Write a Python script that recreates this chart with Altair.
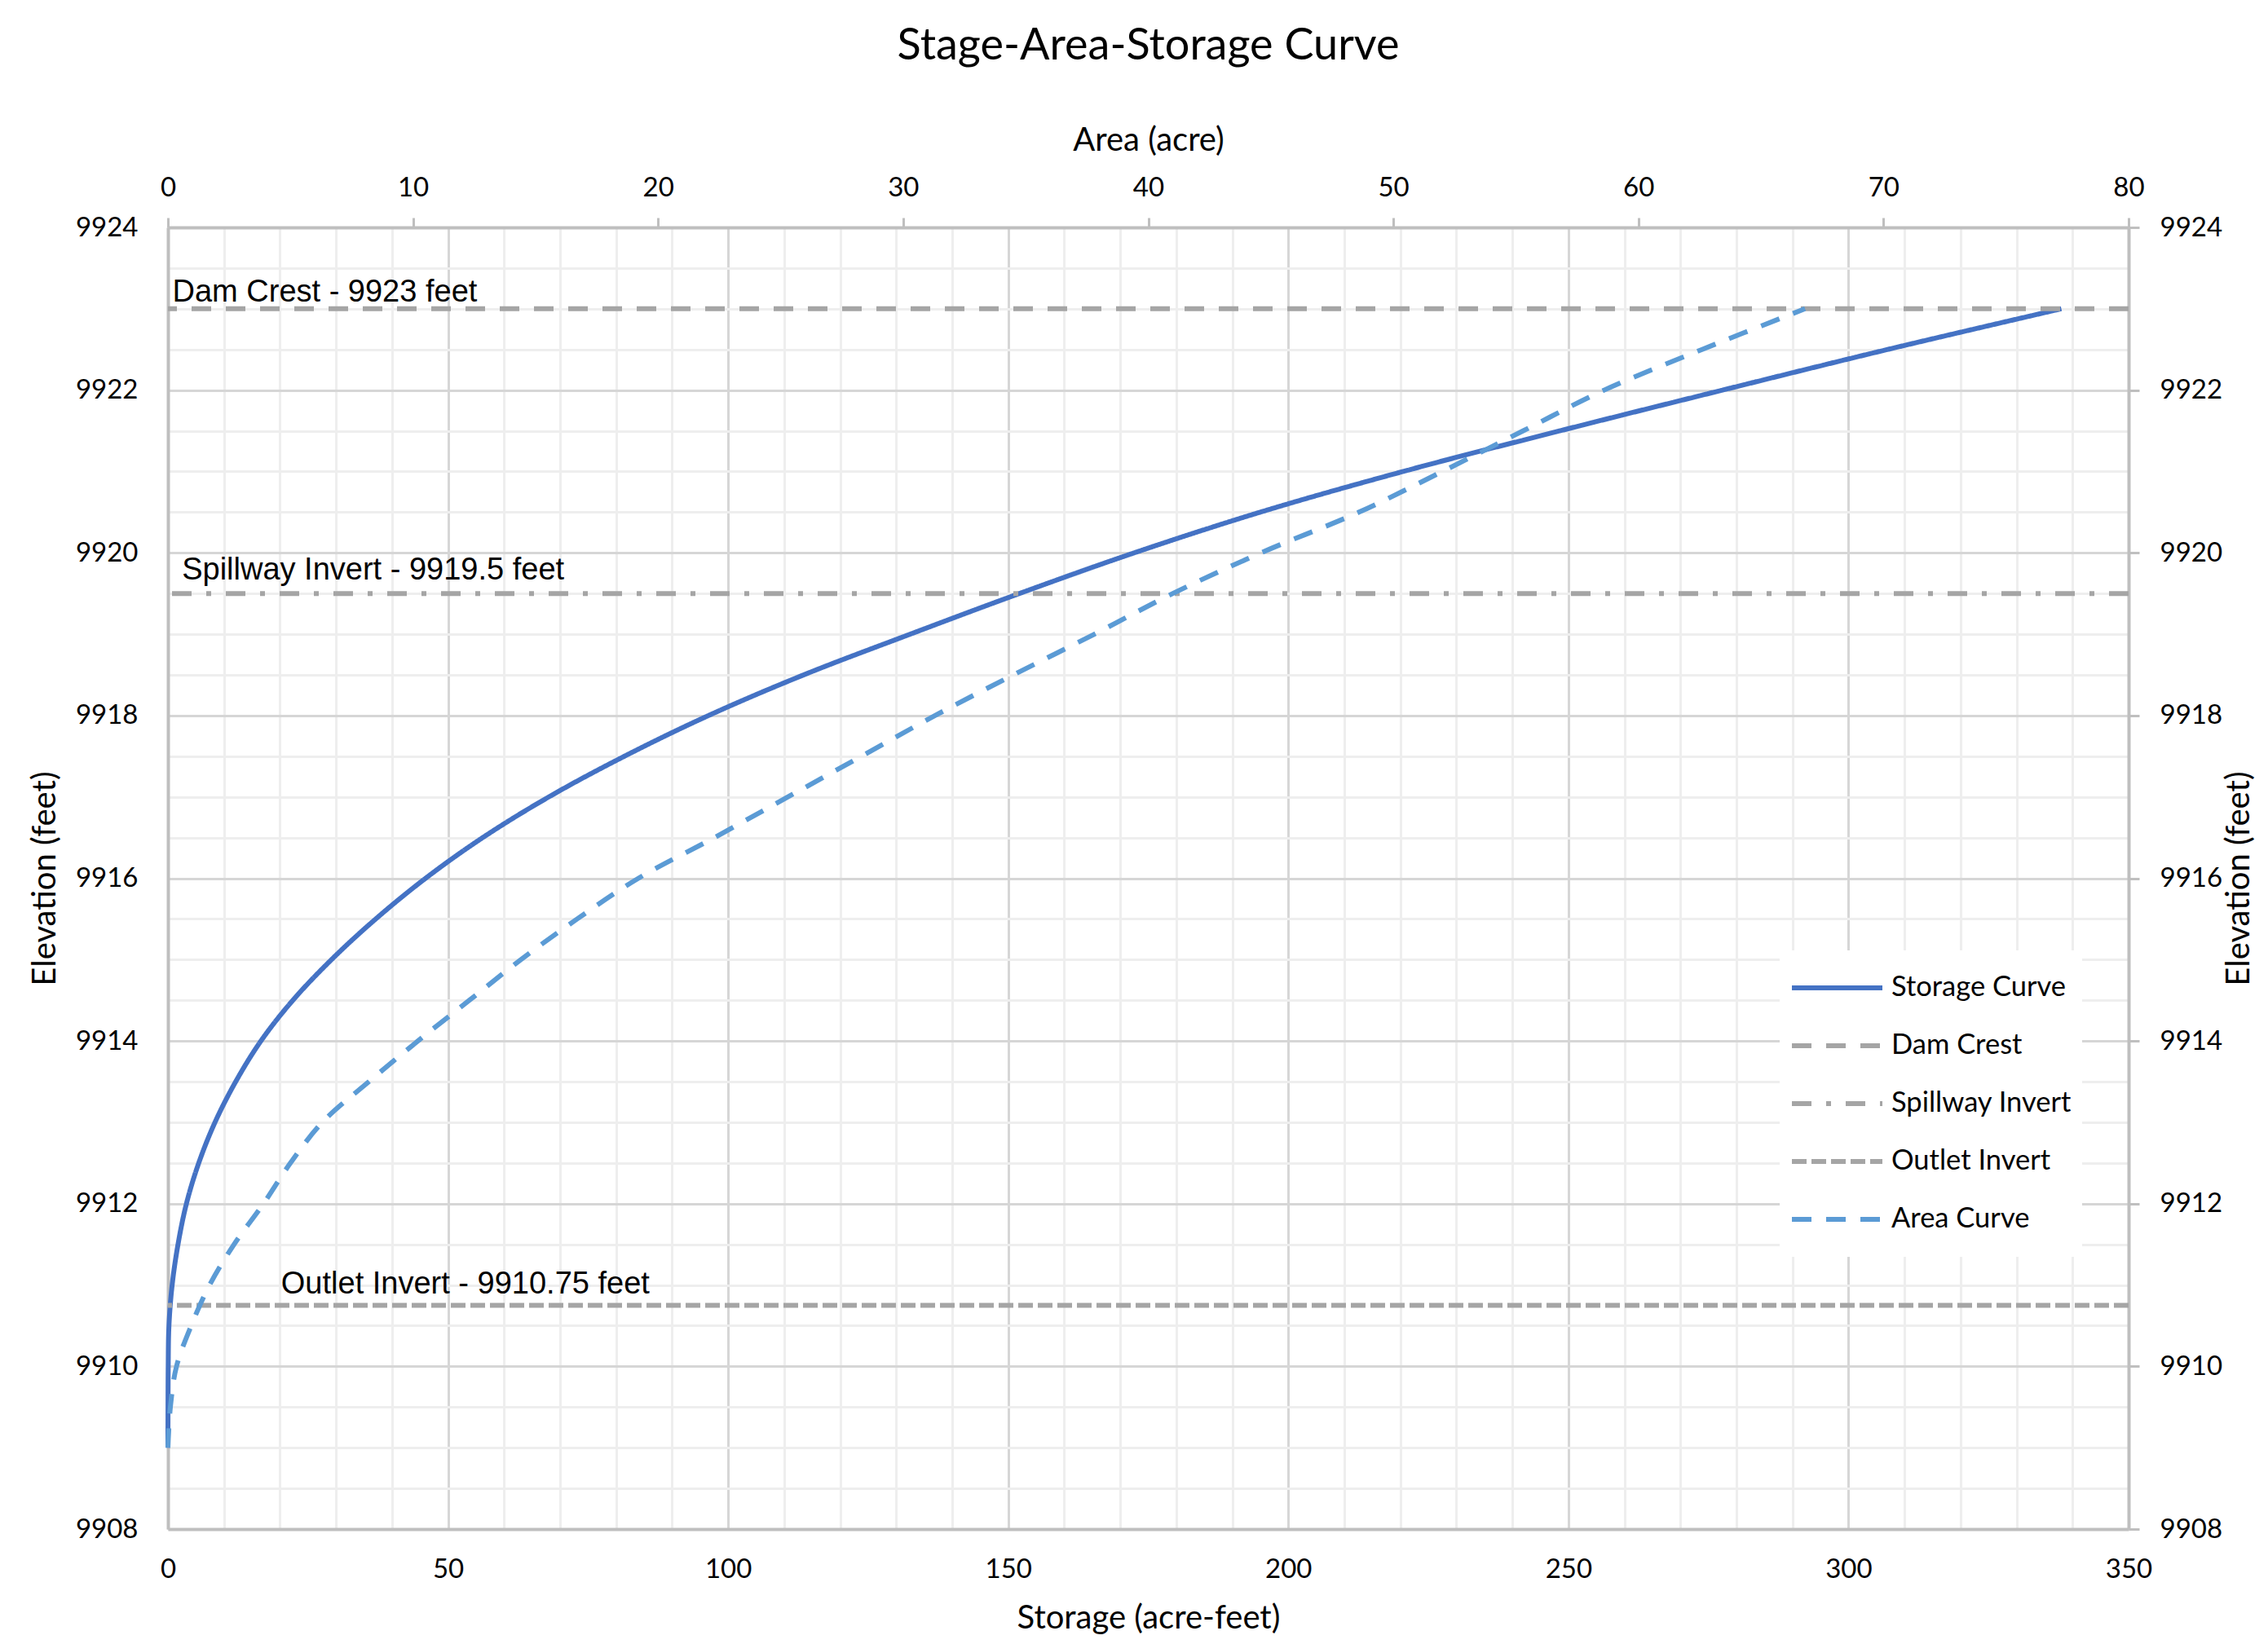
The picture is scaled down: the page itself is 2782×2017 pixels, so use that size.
import altair as alt
import pandas as pd

# ---- data ----
stor_elev = [9909.0, 9910.0, 9910.5, 9911.0, 9911.5, 9912.0, 9912.5, 9913.0, 9913.5, 9914.0,
             9914.5, 9915.0, 9915.5, 9916.0, 9916.5, 9917.0, 9917.5, 9918.0, 9918.5, 9919.0,
             9919.5, 9920.0, 9920.5, 9921.0, 9921.5, 9922.0, 9922.5, 9923.0]
stor_vol = [0.0, 0.05, 0.18, 0.75, 1.8, 3.3, 5.5, 8.4, 12.1, 16.6,
            22.3, 29.2, 37.1, 46.0, 56.2, 68.0, 81.5, 96.5, 113.5, 132.5,
            152.0, 172.5, 195.0, 220.5, 248.5, 277.5, 307.0, 338.0]

area_elev = [9909.0, 9909.5, 9910.0, 9910.5, 9911.0, 9911.5, 9912.0, 9912.5, 9913.0, 9913.5,
             9914.0, 9914.5, 9915.0, 9915.5, 9916.0, 9916.5, 9917.0, 9917.5, 9918.0, 9918.5,
             9919.0, 9919.5, 9920.0, 9920.5, 9921.0, 9921.5, 9922.0, 9922.5, 9923.0]
area_val = [0.0, 0.1, 0.35, 0.95, 1.7, 2.7, 3.9, 5.0, 6.3, 8.2,
            10.2, 12.3, 14.4, 16.7, 19.2, 22.3, 25.3, 28.3, 31.3, 34.5,
            37.8, 41.0, 44.6, 48.6, 52.0, 55.3, 58.6, 62.6, 66.8]

ref_names = ["Dam Crest", "Spillway Invert", "Outlet Invert"]
ref_elev = [9923.0, 9919.5, 9910.75]

label_text = ["Dam Crest - 9923 feet", "Spillway Invert - 9919.5 feet", "Outlet Invert - 9910.75 feet"]
label_storage = [0.8, 2.5, 20.2]
label_elev = [9923.09, 9919.67, 9910.90]

series_order = ["Storage Curve", "Dam Crest", "Spillway Invert", "Outlet Invert", "Area Curve"]
series_colors = ["#4472C4", "#A5A5A5", "#A5A5A5", "#A5A5A5", "#5B9BD5"]
series_dashes = [[1, 0], [24, 18], [24, 18, 6, 18], [18, 6], [24, 18]]

storage_ticks = list(range(0, 351, 10))
area_ticks = list(range(0, 81, 10))
elev_ticks_minor = [9908 + 0.5 * i for i in range(33)]
elev_ticks_major = list(range(9908, 9925, 2))

# ---- tables ----
stor_df = pd.DataFrame({"Storage": stor_vol, "Elevation": stor_elev, "Series": "Storage Curve"})
area_df = pd.DataFrame({"Area": area_val, "Elevation": area_elev, "Series": "Area Curve"})
ref_df = pd.DataFrame({"Elevation": ref_elev, "Series": ref_names})
lab_df = pd.DataFrame({"Storage": label_storage, "Elevation": label_elev, "Label": label_text})

FONT = "Lato"
AXIS_GRAY = "#bfbfbf"
MAJOR = "#d6d6d6"
MINOR = "#eeeeee"

color_scale = alt.Scale(domain=series_order, range=series_colors)
dash_scale = alt.Scale(domain=series_order, range=series_dashes)
elev_scale = alt.Scale(domain=[9908, 9924], nice=False, zero=False)
stor_scale = alt.Scale(domain=[0, 350], nice=False)
area_scale = alt.Scale(domain=[0, 80], nice=False)

common_axis = dict(labelFont=FONT, labelFontSize=33, labelColor="#000000",
                   titleFont=FONT, titleFontSize=40, titleFontWeight="normal",
                   titleColor="#000000", domainColor=AXIS_GRAY, domainWidth=4)

x_bottom_axis = alt.Axis(
    title="Storage (acre-feet)", orient="bottom", values=storage_ticks,
    labelExpr="datum.value % 50 === 0 ? datum.label : ''",
    labelOverlap=False, labelFlush=False, ticks=False, tickSize=0,
    labelPadding=33, titlePadding=23, grid=True,
    gridColor={"condition": {"test": "datum.value % 50 === 0", "value": MAJOR}, "value": MINOR},
    gridWidth=3, **common_axis)

y_left_axis = alt.Axis(
    title="Elevation (feet)", orient="left", values=elev_ticks_minor,
    labelExpr="datum.value % 2 === 0 ? format(datum.value, 'd') : ''",
    labelOverlap=False, labelFlush=False, ticks=False, tickSize=0,
    labelPadding=37, titlePadding=17, grid=True,
    gridColor={"condition": {"test": "datum.value % 2 === 0", "value": MAJOR}, "value": MINOR},
    gridWidth=3, **common_axis)

x_top_axis = alt.Axis(
    title="Area (acre)", orient="top", values=area_ticks, format="d",
    labelOverlap=False, labelFlush=False, ticks=True, tickSize=12,
    tickColor=AXIS_GRAY, tickWidth=3, labelPadding=20, titlePadding=22,
    grid=False, **common_axis)

y_right_axis = alt.Axis(
    title="Elevation (feet)", orient="right", values=elev_ticks_major, format="d",
    labelOverlap=False, labelFlush=False, ticks=True, tickSize=13,
    tickColor=AXIS_GRAY, tickWidth=3, labelPadding=25, titlePadding=41,
    titleAngle=270, grid=False, **common_axis)

legend = alt.Legend(
    title=None, orient="none", legendX=1977, legendY=887,
    symbolType="stroke", symbolSize=12321, symbolStrokeWidth=6,
    clipHeight=68, rowPadding=3, labelOffset=8,
    labelFont=FONT, labelFontSize=34.5, labelColor="#000000", labelLimit=500,
    fillColor="#ffffff", padding=12)

rules = alt.Chart(ref_df).mark_rule(strokeWidth=6).encode(
    y=alt.Y("Elevation:Q", scale=elev_scale, axis=None),
    color=alt.Color("Series:N", scale=color_scale, legend=None),
    strokeDash=alt.StrokeDash("Series:N", scale=dash_scale, legend=None),
)

storage_line = alt.Chart(stor_df).mark_line(strokeWidth=6, interpolate="catmull-rom").encode(
    x=alt.X("Storage:Q", scale=stor_scale, axis=x_bottom_axis),
    y=alt.Y("Elevation:Q", scale=elev_scale, axis=y_left_axis),
    order=alt.Order("Elevation:Q"),
    color=alt.Color("Series:N", scale=color_scale, legend=legend),
    strokeDash=alt.StrokeDash("Series:N", scale=dash_scale, legend=legend),
)

labels = alt.Chart(lab_df).mark_text(
    font="Liberation Sans", fontSize=38, align="left", baseline="alphabetic", color="#000000"
).encode(
    x=alt.X("Storage:Q", scale=stor_scale, axis=None),
    y=alt.Y("Elevation:Q", scale=elev_scale, axis=None),
    text="Label:N",
)

area_line = alt.Chart(area_df).mark_line(strokeWidth=6, interpolate="catmull-rom").encode(
    x=alt.X("Area:Q", scale=area_scale, axis=x_top_axis),
    y=alt.Y("Elevation:Q", scale=elev_scale, axis=y_right_axis),
    order=alt.Order("Elevation:Q"),
    color=alt.Color("Series:N", scale=color_scale, legend=None),
    strokeDash=alt.StrokeDash("Series:N", scale=dash_scale, legend=None),
)

chart = alt.layer(storage_line, rules, labels, area_line).resolve_scale(
    x="independent", y="independent"
).properties(
    width=2405, height=1597,
    title=alt.TitleParams("Stage-Area-Storage Curve", font=FONT, fontSize=54,
                          fontWeight="normal", color="#000000", anchor="middle", offset=68),
    padding={"left": 198, "top": 271, "right": 161, "bottom": 130},
    autosize=alt.AutoSizeParams(type="none"),
    background="#ffffff",
).configure_view(strokeWidth=0)

chart.save("out.html", embed_options={"renderer": "svg", "actions": False})
